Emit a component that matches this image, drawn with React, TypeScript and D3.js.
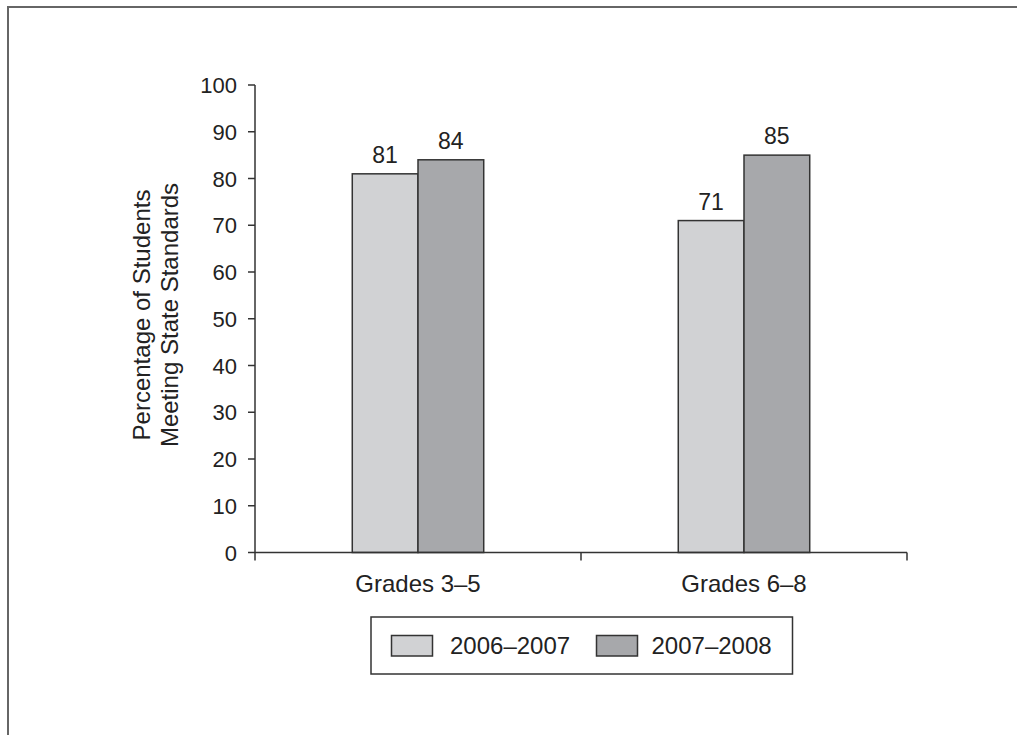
import React from "react";
import * as d3 from "d3";

const categories = ["Grades 3–5", "Grades 6–8"];
const seriesNames = ["2006–2007", "2007–2008"];
const values2006 = [81, 71];
const values2008 = [84, 85];
const yTicks = [0, 10, 20, 30, 40, 50, 60, 70, 80, 90, 100];
const yTitleLines = ["Percentage of Students", "Meeting State Standards"];

const W = 1017;
const H = 735;
const FONT = "'Liberation Sans', Arial, Helvetica, sans-serif";
const COLORS = ["#d1d2d4", "#a7a8ab"];
const INK = "#222";
const LINE = "#333";

export default function App() {
  const x0 = d3.scaleBand<string>().domain(categories).range([255, 907]).padding(0);
  const x1 = d3
    .scaleBand<string>()
    .domain(seriesNames)
    .range([0, x0.bandwidth()])
    .paddingInner(0)
    .paddingOuter(1.48);
  const y = d3.scaleLinear().domain([0, 100]).range([552.5, 85]);
  const color = d3.scaleOrdinal<string, string>().domain(seriesNames).range(COLORS);

  const series = [values2006, values2008];
  const bars = categories.flatMap((c, ci) =>
    seriesNames.map((s, si) => ({ c, s, v: series[si][ci] }))
  );

  const xEdges = [...categories.map((c) => x0(c)!), x0(categories[categories.length - 1])! + x0.bandwidth()];

  const legendItems = [
    { name: seriesNames[0], sx: 391.5, tx: 450 },
    { name: seriesNames[1], sx: 596.5, tx: 651.5 },
  ];

  return (
    <div style={{ position: "absolute", left: 0, top: 0 }}>
      <svg width={W} height={H} style={{ display: "block", background: "#fff" }} fontFamily={FONT}>
        {/* frame */}
        <line x1={8} y1={7} x2={8} y2={H} stroke="#666" strokeWidth={2} />
        <line x1={7} y1={7} x2={W} y2={7} stroke="#666" strokeWidth={2} />

        {/* bars */}
        {bars.map((b) => (
          <rect
            key={b.c + b.s}
            x={x0(b.c)! + x1(b.s)!}
            y={y(b.v)}
            width={x1.bandwidth()}
            height={y(0) - y(b.v)}
            fill={color(b.s)}
            stroke={LINE}
            strokeWidth={1.5}
          />
        ))}
        {bars.map((b) => (
          <text
            key={"l" + b.c + b.s}
            x={x0(b.c)! + x1(b.s)! + x1.bandwidth() / 2}
            y={y(b.v) - 11}
            textAnchor="middle"
            fontSize={23}
            fill={INK}
          >
            {b.v}
          </text>
        ))}

        {/* y axis */}
        <line x1={255} y1={y(100)} x2={255} y2={y(0)} stroke={LINE} strokeWidth={1.5} />
        {yTicks.map((t) => (
          <g key={t}>
            <line x1={248} y1={y(t)} x2={255} y2={y(t)} stroke={LINE} strokeWidth={1.5} />
            <text x={237} y={y(t) + 8} textAnchor="end" fontSize={22} fill={INK}>
              {t}
            </text>
          </g>
        ))}

        {/* x axis */}
        <line x1={255} y1={y(0)} x2={907} y2={y(0)} stroke={LINE} strokeWidth={1.5} />
        {xEdges.map((xe, i) => (
          <line key={i} x1={xe} y1={y(0)} x2={xe} y2={y(0) + 8} stroke={LINE} strokeWidth={1.5} />
        ))}
        {categories.map((c) => (
          <text key={c} x={x0(c)! + x0.bandwidth() / 2} y={592} textAnchor="middle" fontSize={24} fill={INK}>
            {c}
          </text>
        ))}

        {/* y title */}
        <g transform={`translate(0, 315) rotate(-90)`}>
          {yTitleLines.map((line, i) => (
            <text key={line} x={0} y={150 + i * 28} textAnchor="middle" fontSize={24} fill={INK}>
              {line}
            </text>
          ))}
        </g>

        {/* legend */}
        <rect x={371} y={617} width={421.5} height={57} fill="#fff" stroke={LINE} strokeWidth={1.5} />
        {legendItems.map((it) => (
          <g key={it.name}>
            <rect x={it.sx} y={635.5} width={41} height={20.5} fill={color(it.name)} stroke={LINE} strokeWidth={1.5} />
            <text x={it.tx} y={654} fontSize={24} fill={INK}>
              {it.name}
            </text>
          </g>
        ))}
      </svg>
    </div>
  );
}
